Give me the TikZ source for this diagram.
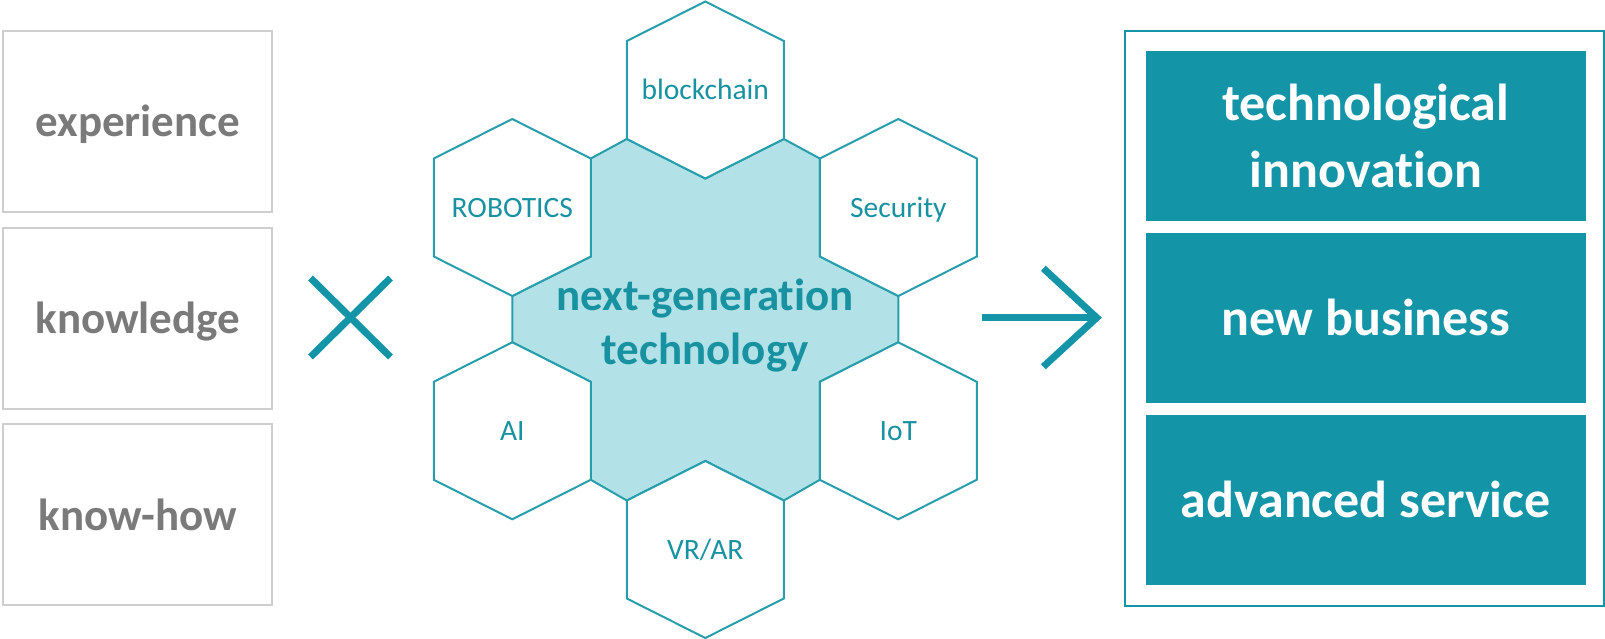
\documentclass[tikz,border=0pt]{standalone}
\usepackage{fontspec}
\setmainfont{Carlito}[Ligatures=NoCommon]
\usetikzlibrary{calc}
\definecolor{tealbox}{RGB}{19,148,167}
\definecolor{hexline}{RGB}{40,158,172}
\definecolor{tealtext}{RGB}{24,146,161}
\definecolor{lightfill}{RGB}{178,226,232}
\definecolor{graytext}{RGB}{122,122,122}
\definecolor{grayline}{RGB}{206,206,206}
\begin{document}
\begin{tikzpicture}[x=1pt,y=-1pt,
  inbox/.style={draw=grayline, line width=2pt, minimum width=269pt, minimum height=181pt,
    inner sep=0pt, text=graytext, font=\fontsize{45}{54}\selectfont\bfseries,
    text height=31pt, text depth=0pt},
  outbox/.style={fill=tealbox, minimum width=440pt, minimum height=170.5pt, inner sep=0pt,
    text=white, font=\fontsize{52}{66.5}\selectfont\bfseries, align=center},
  hexlabel/.style={text=tealtext, font=\fontsize{29.5}{34}\selectfont, inner sep=0pt,
    text height=19.5pt, text depth=0pt},
  hexa/.pic={\draw[hexline, line width=2pt, fill=white, line join=miter]
    (0,-88.5) -- (78.5,-49) -- (78.5,49) -- (0,88.5) -- (-78.5,49) -- (-78.5,-49) -- cycle;},
  sign/.style={tealbox, line width=7pt}
]
\useasboundingbox (0,0) rectangle (1605,639);

% left boxes
\node[inbox] (exp) at (137.8,121.4) {experience};
\node[inbox] (know) at (137.8,318) {knowledge};
\node[inbox] (kh) at (137.8,514.8) {know-how};

% times sign
\coordinate (xa) at (310.5,278);
\coordinate (xb) at (390.5,357);
\coordinate (xc) at (310.5,357);
\coordinate (xd) at (390.5,278);
\draw[sign] (xa) -- (xb);
\draw[sign] (xc) -- (xd);

% hexagon centres
\coordinate (bc) at (705.3,90);
\coordinate (ro) at (512.3,207.5);
\coordinate (se) at (898.3,207.5);
\coordinate (ai) at (512.3,430.8);
\coordinate (io) at (898.3,430.8);
\coordinate (vr) at (705.3,549.5);

% central filled region
\filldraw[fill=lightfill, draw=hexline, line width=2pt, line join=miter]
  ($(bc)+(-78.5,49)$) -- ($(ro)+(78.5,-49)$) -- ($(ro)+(78.5,49)$) -- ($(ro)+(0,88.5)$)
  -- ($(ai)+(0,-88.5)$) -- ($(ai)+(78.5,-49)$) -- ($(ai)+(78.5,49)$)
  -- ($(vr)+(-78.5,-49)$) -- ($(vr)+(0,-88.5)$) -- ($(vr)+(78.5,-49)$)
  -- ($(io)+(-78.5,49)$) -- ($(io)+(-78.5,-49)$) -- ($(io)+(0,-88.5)$)
  -- ($(se)+(0,88.5)$) -- ($(se)+(-78.5,49)$) -- ($(se)+(-78.5,-49)$)
  -- ($(bc)+(78.5,49)$) -- ($(bc)+(0,88.5)$) -- cycle;

% outer hexagons
\pic at (bc) {hexa};
\pic at (ro) {hexa};
\pic at (se) {hexa};
\pic at (ai) {hexa};
\pic at (io) {hexa};
\pic at (vr) {hexa};

\node[hexlabel] (lbc) at (bc) {blockchain};
\node[hexlabel] (lro) at (ro) {ROBOTICS};
\node[hexlabel] (lse) at (se) {Security};
\node[hexlabel] (lai) at (ai) {AI};
\node[hexlabel] (lio) at (io) {IoT};
\node[hexlabel] (lvr) at (vr) {VR/AR};

\node[text=tealtext, font=\fontsize{45}{54}\selectfont\bfseries, align=center, inner sep=0pt]
  (ngt) at (705.3,326) {next-generation\\technology};

% arrow
\coordinate (as) at (982,317.7);
\coordinate (at) at (1096.7,317.7);
\coordinate (au) at (1043.3,268.3);
\coordinate (ad) at (1043.3,366.7);
\draw[sign] (as) -- (at);
\draw[sign, line join=miter] (au) -- (at) -- (ad);

% result boxes
\draw[tealbox, line width=2pt] (1125.3,31) rectangle (1603.5,606);
\node[outbox] (ti) at (1365.7,136) {technological\\innovation};
\node[outbox] (nb) at (1365.7,317.8) {\vphantom{b}new business};
\node[outbox, text height=35pt, text depth=0pt] (as2) at (1365.7,500) {advanced service};
\end{tikzpicture}
\end{document}
